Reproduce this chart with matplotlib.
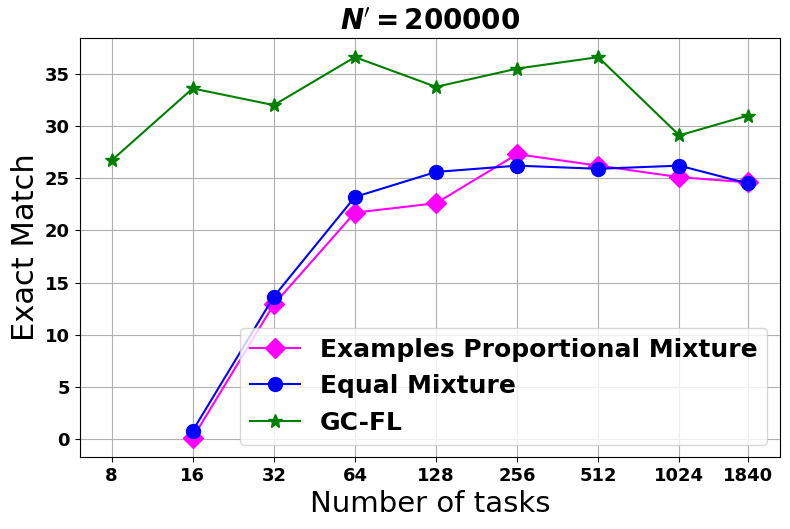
import numpy as np
import matplotlib.pyplot as plt

tasks = [8, 16, 32, 64, 128, 256, 512, 1024, 1840]
tasks_mix = [16, 32, 64, 128, 256, 512, 1024, 1840]
prop_mixture = [0.1, 12.9, 21.7, 22.6, 27.3, 26.2, 25.1, 24.6]
equal_mixture = [0.8, 13.65, 23.2, 25.6, 26.2, 25.9, 26.2, 24.5]
gcfl = [26.7, 33.6, 32.0, 36.6, 33.75, 35.5, 36.6, 29.1, 31.0]

fig, ax = plt.subplots(figsize=(7.9, 5.29), dpi=100)
ax.plot(tasks_mix, prop_mixture, color='magenta', marker='D', markersize=10, label='Examples Proportional Mixture')
ax.plot(tasks_mix, equal_mixture, color='blue', marker='o', markersize=10, label='Equal Mixture')
ax.plot(tasks, gcfl, color='green', marker='*', markersize=10, label='GC-FL')

ax.set_xscale('log', base=2)
ax.set_xticks(tasks)
ax.set_xticklabels([str(t) for t in tasks])
ax.minorticks_off()
for lbl in ax.get_xticklabels() + ax.get_yticklabels():
    lbl.set_fontsize(13)
    lbl.set_fontweight('bold')

ax.set_xlabel('Number of tasks', fontsize=21)
ax.set_ylabel('Exact Match', fontsize=22)
ax.set_title(r"$\mathbfit{N}'\mathbf{=200000}$", fontsize=20)
ax.grid(True)
ax.legend(loc='lower right', prop={'weight': 'bold', 'size': 18})

plt.subplots_adjust(left=0.101, right=0.987, top=0.928, bottom=0.136)
plt.savefig('out.png')
